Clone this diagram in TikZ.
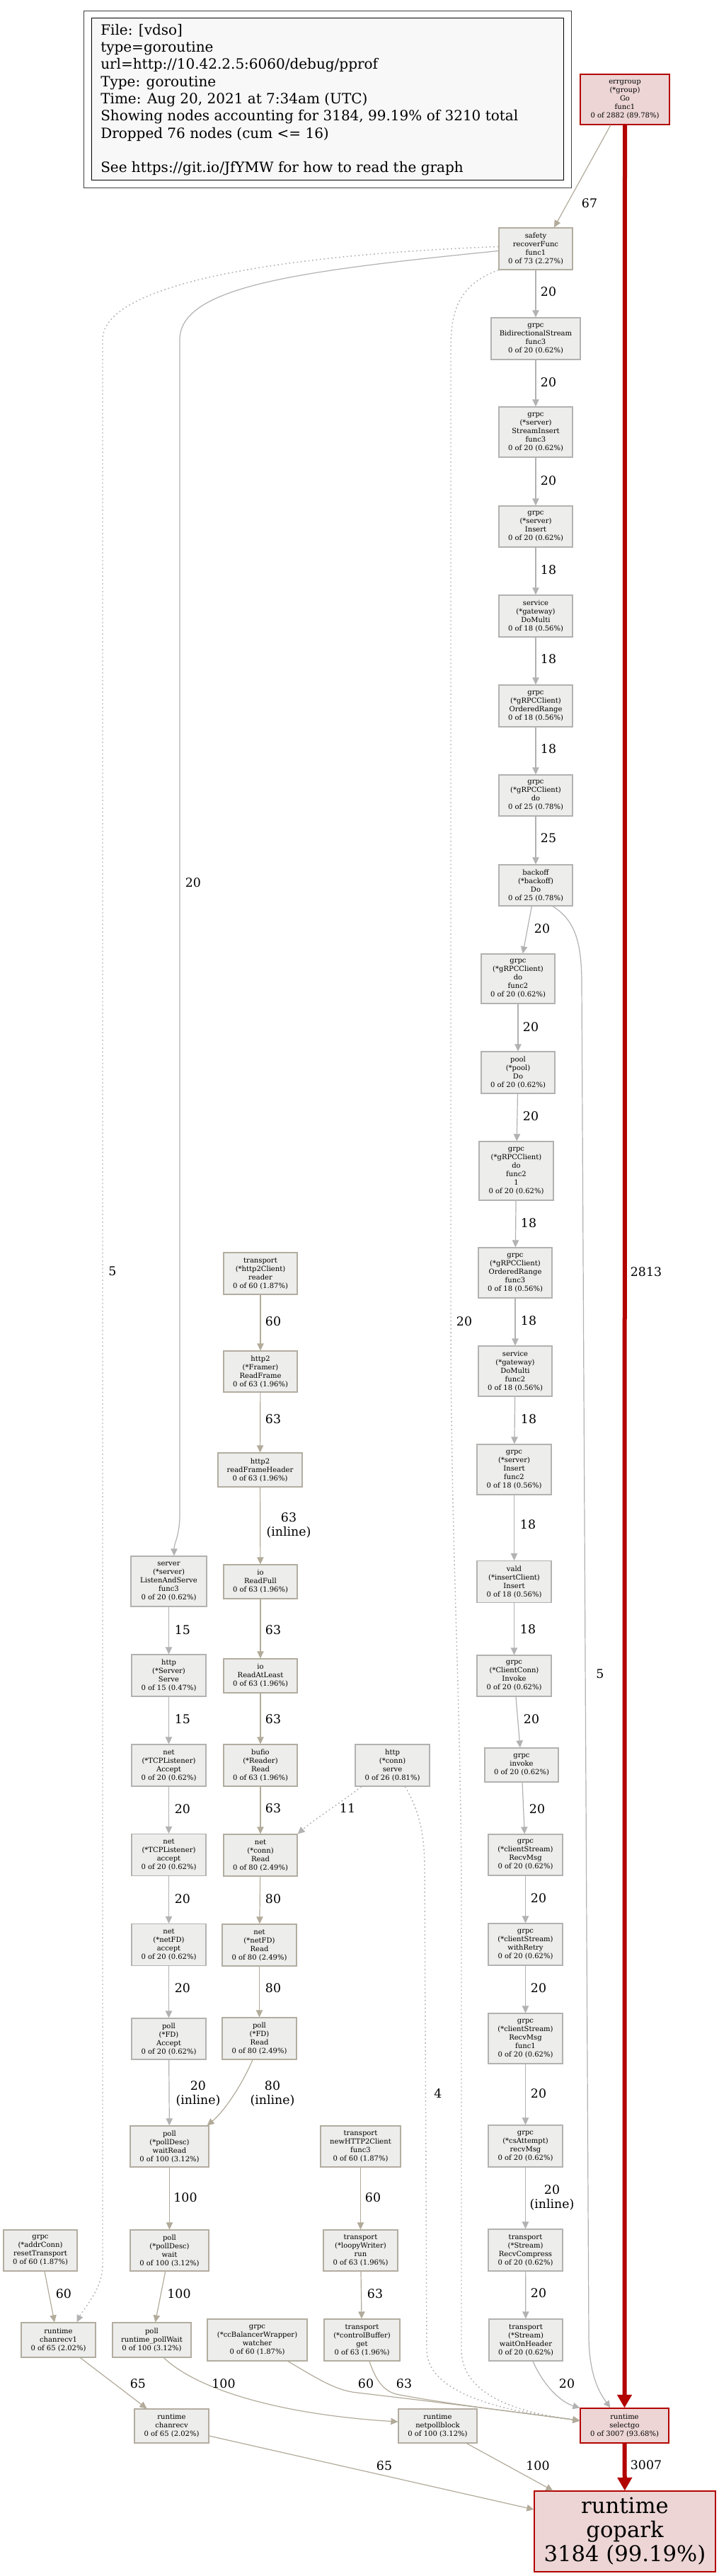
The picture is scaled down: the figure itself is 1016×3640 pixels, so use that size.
\documentclass[tikz,border=0pt]{standalone}
\usepackage{fontspec}
\setmainfont{DejaVu Serif}
\usetikzlibrary{arrows.meta,calc}
\definecolor{ndf}{HTML}{EDEDEC}
\definecolor{ndb}{HTML}{B2B2B1}
\definecolor{tnb}{HTML}{B2ADA0}
\definecolor{ged}{HTML}{B2B2B2}
\definecolor{ted}{HTML}{B2AB9A}
\definecolor{rdf}{HTML}{EDD5D5}
\definecolor{rdb}{HTML}{B20400}
\definecolor{lgf}{HTML}{F8F8F8}
\newcommand\NdFont{\fontsize{7.5}{9}\selectfont}
\newcommand\LbFont{\fontsize{13}{15}\selectfont}
\begin{document}
\begin{tikzpicture}[x=0.75pt,y=-0.75pt,
  nd/.style={draw=ndb, fill=ndf, line width=0.9pt, inner sep=0pt, align=center, font=\NdFont},
  tn/.style={nd, draw=tnb},
  rd/.style={nd, draw=rdb, fill=rdf},
  wh/.style 2 args={minimum width={#1*0.75pt}, minimum height={#2*0.75pt}},
  lb/.style={inner sep=0pt, align=center, font=\LbFont},
  ge/.style={draw=ged, line width=0.9pt, -{Triangle[length=7.5pt,width=7pt]}},
  te/.style={draw=ted, line width=0.9pt, -{Triangle[length=7.5pt,width=7pt]}},
  dt/.style={line width=1.1pt, dash pattern=on 1.3pt off 2.8pt},
  re/.style={draw=rdb, line width=4.5pt, -{Triangle[length=14pt,width=15pt]}}
]
\useasboundingbox (0,0) rectangle (1016,3640);
\fill[white] (0,0) rectangle (1016,3640);

% legend
\draw[line width=0.75pt, draw=black!75] (118,16) rectangle (807,265);
\draw[line width=0.75pt, fill=lgf] (129,26) rectangle (796,254);
\node[anchor=north west, inner sep=0pt, align=left, font=\fontsize{15}{18.2}\selectfont] (legend) at (142,34)
 {File: [vdso]\\type=goroutine\\url=http://10.42.2.5:6060/debug/pprof\\Type: goroutine\\Time: Aug 20, 2021 at 7:34am (UTC)\\Showing nodes accounting for 3184, 99.19\% of 3210 total\\Dropped 76 nodes (cum <= 16)\\[18.2pt]See https://git.io/JfYMW for how to read the graph};

% right column
\node[rd, wh={126}{71}] (nerrgroup) at (883,140.5) {errgroup\\(*group)\\Go\\func1\\0 of 2882 (89.78\%)};
\node[tn, wh={104}{59}] (nsafety) at (757,351.5) {safety\\recoverFunc\\func1\\0 of 73 (2.27\%)};
\node[nd, wh={126}{59}] (nbidi) at (757,478.5) {grpc\\BidirectionalStream\\func3\\0 of 20 (0.62\%)};
\node[nd, wh={104}{71}] (nstreamins) at (757,610.5) {grpc\\(*server)\\StreamInsert\\func3\\0 of 20 (0.62\%)};
\node[nd, wh={104}{58}] (ninsert) at (757,744) {grpc\\(*server)\\Insert\\0 of 20 (0.62\%)};
\node[nd, wh={104}{59}] (ndomulti) at (757,870.5) {service\\(*gateway)\\DoMulti\\0 of 18 (0.56\%)};
\node[nd, wh={104}{59}] (nordrange) at (757,997.5) {grpc\\(*gRPCClient)\\OrderedRange\\0 of 18 (0.56\%)};
\node[nd, wh={104}{58}] (ndo) at (757,1124) {grpc\\(*gRPCClient)\\do\\0 of 25 (0.78\%)};
\node[nd, wh={104}{58}] (nbackoff) at (757,1251) {backoff\\(*backoff)\\Do\\0 of 25 (0.78\%)};
\node[nd, wh={104}{70}] (ndofunc2) at (732,1383) {grpc\\(*gRPCClient)\\do\\func2\\0 of 20 (0.62\%)};
\node[nd, wh={104}{59}] (npooldo) at (732,1515.5) {pool\\(*pool)\\Do\\0 of 20 (0.62\%)};
\node[nd, wh={105}{83}] (ndofunc21) at (729.5,1654.5) {grpc\\(*gRPCClient)\\do\\func2\\1\\0 of 20 (0.62\%)};
\node[nd, wh={104}{71}] (nordfunc3) at (728,1798.5) {grpc\\(*gRPCClient)\\OrderedRange\\func3\\0 of 18 (0.56\%)};
\node[nd, wh={104}{71}] (ndomultif2) at (728,1937.5) {service\\(*gateway)\\DoMulti\\func2\\0 of 18 (0.56\%)};
\node[nd, wh={105}{71}] (ninsertf2) at (726.5,2076.5) {grpc\\(*server)\\Insert\\func2\\0 of 18 (0.56\%)};
\node[nd, wh={105}{59}] (nvald) at (726.5,2235) {vald\\(*insertClient)\\Insert\\0 of 18 (0.56\%)};
\node[nd, wh={105}{58}] (nccinvoke) at (726.5,2368) {grpc\\(*ClientConn)\\Invoke\\0 of 20 (0.62\%)};
\node[nd, wh={104}{48}] (ninvoke) at (737,2494) {grpc\\invoke\\0 of 20 (0.62\%)};
\node[nd, wh={105}{58}] (ncsrecv) at (742.5,2621) {grpc\\(*clientStream)\\RecvMsg\\0 of 20 (0.62\%)};
\node[nd, wh={105}{59}] (nwithretry) at (742.5,2747.5) {grpc\\(*clientStream)\\withRetry\\0 of 20 (0.62\%)};
\node[nd, wh={105}{71}] (nrecvf1) at (742.5,2880.5) {grpc\\(*clientStream)\\RecvMsg\\func1\\0 of 20 (0.62\%)};
\node[nd, wh={105}{59}] (ncsattempt) at (742.5,3032.5) {grpc\\(*csAttempt)\\recvMsg\\0 of 20 (0.62\%)};
\node[nd, wh={105}{59}] (nrecvcomp) at (742.5,3179.5) {transport\\(*Stream)\\RecvCompress\\0 of 20 (0.62\%)};
\node[nd, wh={104}{59}] (nwaitoh) at (743,3306.5) {transport\\(*Stream)\\waitOnHeader\\0 of 20 (0.62\%)};
\node[rd, wh={125}{49}] (nselectgo) at (882.5,3427.5) {runtime\\selectgo\\0 of 3007 (93.68\%)};
\node[rd, wh={256}{114}, font=\fontsize{23}{25.5}\selectfont] (ngopark) at (883,3577) {runtime\\gopark\\3184 (99.19\%)};

% middle column
\node[tn, wh={104}{59}] (nreader) at (368,1799.5) {transport\\(*http2Client)\\reader\\0 of 60 (1.87\%)};
\node[tn, wh={104}{58}] (nreadframe) at (368,1938) {http2\\(*Framer)\\ReadFrame\\0 of 63 (1.96\%)};
\node[tn, wh={119}{48}] (nrfh) at (367.5,2077) {http2\\readFrameHeader\\0 of 63 (1.96\%)};
\node[tn, wh={104}{48}] (nreadfull) at (368,2235) {io\\ReadFull\\0 of 63 (1.96\%)};
\node[tn, wh={104}{48}] (nreadatleast) at (368,2368) {io\\ReadAtLeast\\0 of 63 (1.96\%)};
\node[tn, wh={104}{59}] (nbufio) at (368,2494.5) {bufio\\(*Reader)\\Read\\0 of 63 (1.96\%)};
\node[tn, wh={104}{59}] (nconnread) at (368,2621.5) {net\\(*conn)\\Read\\0 of 80 (2.49\%)};
\node[tn, wh={105}{59}] (nnetfdread) at (366.5,2748.5) {net\\(*netFD)\\Read\\0 of 80 (2.49\%)};
\node[tn, wh={105}{59}] (nfdread) at (366.5,2880.5) {poll\\(*FD)\\Read\\0 of 80 (2.49\%)};
\node[nd, wh={105}{59}] (nhttpserve) at (554.5,2494.5) {http\\(*conn)\\serve\\0 of 26 (0.81\%)};
\node[tn, wh={113}{58}] (nnewh2c) at (509.5,3033) {transport\\newHTTP2Client\\func3\\0 of 60 (1.87\%)};
\node[tn, wh={105}{58}] (nloopy) at (509.5,3180) {transport\\(*loopyWriter)\\run\\0 of 63 (1.96\%)};
\node[tn, wh={107}{59}] (nctrlbuf) at (511.5,3306.5) {transport\\(*controlBuffer)\\get\\0 of 63 (1.96\%)};
\node[tn, wh={141}{59}] (nccbw) at (363.5,3306.5) {grpc\\(*ccBalancerWrapper)\\watcher\\0 of 60 (1.87\%)};
\node[tn, wh={111}{48}] (nnetpollblock) at (618.5,3428) {runtime\\netpollblock\\0 of 100 (3.12\%)};

% left column
\node[nd, wh={107}{71}] (nlands) at (238.5,2234.5) {server\\(*server)\\ListenAndServe\\func3\\0 of 20 (0.62\%)};
\node[nd, wh={105}{59}] (nhttpsrv) at (238.5,2367.5) {http\\(*Server)\\Serve\\0 of 15 (0.47\%)};
\node[nd, wh={105}{59}] (ntcpAccept) at (238.5,2494.5) {net\\(*TCPListener)\\Accept\\0 of 20 (0.62\%)};
\node[nd, wh={105}{59}] (ntcpaccept) at (238.5,2621) {net\\(*TCPListener)\\accept\\0 of 20 (0.62\%)};
\node[nd, wh={105}{59}] (nnetfdaccept) at (238.5,2748) {net\\(*netFD)\\accept\\0 of 20 (0.62\%)};
\node[nd, wh={105}{58}] (nfdaccept) at (238.5,2881) {poll\\(*FD)\\Accept\\0 of 20 (0.62\%)};
\node[tn, wh={111}{58}] (nwaitread) at (239.5,3033) {poll\\(*pollDesc)\\waitRead\\0 of 100 (3.12\%)};
\node[tn, wh={111}{58}] (npdwait) at (239.5,3180) {poll\\(*pollDesc)\\wait\\0 of 100 (3.12\%)};
\node[tn, wh={111}{49}] (npollwait) at (214.5,3306.5) {poll\\runtime\_pollWait\\0 of 100 (3.12\%)};
\node[tn, wh={104}{58}] (naddrconn) at (57,3180) {grpc\\(*addrConn)\\resetTransport\\0 of 60 (1.87\%)};
\node[tn, wh={105}{49}] (nchanrecv1) at (82.5,3306.5) {runtime\\chanrecv1\\0 of 65 (2.02\%)};
\node[tn, wh={105}{48}] (nchanrecv) at (242.5,3428) {runtime\\chanrecv\\0 of 65 (2.02\%)};

% edges: right column
\draw[te] ($(nerrgroup.south)+(-20,0)$) -- ($(nsafety.north)+(26,0)$);
\draw[re] (nerrgroup.south) -- (nselectgo.north);
\draw[ge] (nsafety) -- (nbidi);
\draw[ge] (nbidi) -- (nstreamins);
\draw[ge] (nstreamins) -- (ninsert);
\draw[ge] (ninsert) -- (ndomulti);
\draw[ge] (ndomulti) -- (nordrange);
\draw[ge] (nordrange) -- (ndo);
\draw[ge] (ndo) -- (nbackoff);
\draw[ge] (nbackoff) -- (ndofunc2);
\draw[ge] ($(nbackoff.south)+(24,0)$) .. controls (812,1300) and (822,1330) .. (822,1390) -- (832,3300) .. controls (832,3360) and (850,3385) .. ($(nselectgo.north)+(-20,0)$);
\draw[ge] (ndofunc2) -- (npooldo);
\draw[ge] (npooldo) -- (ndofunc21);
\draw[ge] (ndofunc21) -- (nordfunc3);
\draw[ge] (nordfunc3) -- (ndomultif2);
\draw[ge] (ndomultif2) -- (ninsertf2);
\draw[ge] (ninsertf2) -- (nvald);
\draw[ge] (nvald) -- (nccinvoke);
\draw[ge] (nccinvoke) -- (ninvoke);
\draw[ge] (ninvoke) -- (ncsrecv);
\draw[ge] (ncsrecv) -- (nwithretry);
\draw[ge] (nwithretry) -- (nrecvf1);
\draw[ge] (nrecvf1) -- (ncsattempt);
\draw[ge] (ncsattempt) -- (nrecvcomp);
\draw[ge] (nrecvcomp) -- (nwaitoh);
\draw[ge] ($(nwaitoh.south)+(10,0)$) .. controls (770,3375) and (795,3395) .. (nselectgo.north west);
\draw[re] (nselectgo) -- (ngopark);

% edges from safety to the left
\draw[ge] ($(nsafety.west)+(0,3)$) .. controls (420,383) and (254,405) .. (254,480) -- (254,2140) .. controls (254,2170) and (246,2180) .. ($(nlands.north)+(7.5,0)$);
\draw[ge,dt] ($(nsafety.west)+(0,-3)$) .. controls (400,360) and (145,400) .. (145,480) -- (145,3200) .. controls (145,3235) and (118,3262) .. ($(nchanrecv1.north)+(26,0)$);
\draw[ge,dt] (nsafety.south west) .. controls (655,400) and (637,430) .. (637,490) -- (637,1850) .. controls (637,2200) and (652,2400) .. (652,2700) -- (652,3320) .. controls (652,3395) and (760,3412) .. ($(nselectgo.west)+(0,-7)$);

% middle column edges
\draw[te] (nreader) -- (nreadframe);
\draw[te] (nreadframe) -- (nrfh);
\draw[te] (nrfh) -- (nreadfull);
\draw[te] (nreadfull) -- (nreadatleast);
\draw[te] (nreadatleast) -- (nbufio);
\draw[te] (nbufio) -- (nconnread);
\draw[te] (nconnread) -- (nnetfdread);
\draw[te] (nnetfdread) -- (nfdread);
\draw[te] ($(nfdread.south)+(-9.5,0)$) .. controls (340,2950) and (315,2985) .. ($(nwaitread.north east)+(-3,0)$);
\draw[ge,dt] ($(nhttpserve.south)+(-44,0)$) .. controls (485,2545) and (445,2570) .. (nconnread.north east);
\draw[ge,dt] ($(nhttpserve.south)+(18,0)$) .. controls (590,2555) and (600,2585) .. (600,2640) -- (603,3320) .. controls (603,3395) and (760,3412) .. ($(nselectgo.west)+(0,-7)$);
\draw[te] (nnewh2c) -- (nloopy);
\draw[te] (nloopy) -- (nctrlbuf);
\draw[te] ($(nccbw.south)+(43.5,0)$) .. controls (450,3362) and (475,3378) .. (505,3381) .. controls (600,3392) and (760,3412) .. ($(nselectgo.west)+(0,-7)$);
\draw[te] ($(nctrlbuf.south)+(10.5,0)$) .. controls (530,3360) and (540,3378) .. (560,3383) .. controls (630,3397) and (760,3412) .. ($(nselectgo.west)+(0,-7)$);
\draw[te] ($(nnetpollblock.south)+(41,0)$) -- ($(ngopark.north west)+(27,0)$);

% left column edges
\draw[ge] (nlands) -- (nhttpsrv);
\draw[ge] (nhttpsrv) -- (ntcpAccept);
\draw[ge] (ntcpAccept) -- (ntcpaccept);
\draw[ge] (ntcpaccept) -- (nnetfdaccept);
\draw[ge] (nnetfdaccept) -- (nfdaccept);
\draw[ge] (nfdaccept) -- (nwaitread);
\draw[te] (nwaitread) -- (npdwait);
\draw[te] (npdwait) -- (npollwait);
\draw[te] ($(npollwait.south)+(17,0)$) .. controls (280,3378) and (400,3412) .. ($(nnetpollblock.west)+(0,-6)$);
\draw[te] ($(naddrconn.south)+(6,0)$) -- ($(nchanrecv1.north)+(-5.5,0)$);
\draw[te] ($(nchanrecv1.south)+(31,0)$) -- ($(nchanrecv.north)+(-35,0)$);
\draw[te] ($(nchanrecv.east)+(0,14)$) -- ($(ngopark.west)+(0,-31)$);

% edge labels
\node[lb] (l67) at (833,287) {67};
\node[lb] (l2813) at (913,1797) {2813};
\node[lb] (la1) at (775,412) {20};
\node[lb] (la2) at (775,540) {20};
\node[lb] (la3) at (775,679) {20};
\node[lb] (la4) at (775,805) {18};
\node[lb] (la5) at (775,931) {18};
\node[lb] (la6) at (775,1058) {18};
\node[lb] (la7) at (775,1184) {25};
\node[lb] (la8) at (766,1312) {20};
\node[lb] (la9) at (848,2365) {5};
\node[lb] (la10) at (750,1451) {20};
\node[lb] (la11) at (750,1577) {20};
\node[lb] (la12) at (747,1728) {18};
\node[lb] (la13) at (747,1866) {18};
\node[lb] (la14) at (747,2005) {18};
\node[lb] (la15) at (746,2154) {18};
\node[lb] (la16) at (746,2302) {18};
\node[lb] (la17) at (751,2429) {20};
\node[lb] (la18) at (759,2556) {20};
\node[lb] (la19) at (761,2682) {20};
\node[lb] (la20) at (761,2809) {20};
\node[lb] (la21) at (761,2958) {20};
\node[lb] (la22) at (780,3105) {20\\(inline)};
\node[lb] (la23) at (761,3240) {20};
\node[lb] (la24) at (801,3368) {20};
\node[lb] (l3007) at (913,3483) {3007};
\node[lb] (lb1) at (273,1247) {20};
\node[lb] (lb2) at (159,1796) {5};
\node[lb] (lb3) at (656,1867) {20};
\node[lb] (lm1) at (386,1867) {60};
\node[lb] (lm2) at (386,2005) {63};
\node[lb] (lm3) at (408,2155) {63\\(inline)};
\node[lb] (lm4) at (386,2303) {63};
\node[lb] (lm5) at (386,2429) {63};
\node[lb] (lm6) at (386,2555) {63};
\node[lb] (lm7) at (491,2555) {11};
\node[lb] (lm8) at (619,2958) {4};
\node[lb] (lm9) at (386,2683) {80};
\node[lb] (lm10) at (386,2809) {80};
\node[lb] (lm11) at (385,2958) {80\\(inline)};
\node[lb] (lm12) at (527,3105) {60};
\node[lb] (lm13) at (530,3241) {63};
\node[lb] (lm14) at (517,3368) {60};
\node[lb] (lm15) at (571,3368) {63};
\node[lb] (lm16) at (543,3484) {65};
\node[lb] (lm17) at (760,3484) {100};
\node[lb] (ll1) at (258,2303) {15};
\node[lb] (ll2) at (258,2429) {15};
\node[lb] (ll3) at (258,2556) {20};
\node[lb] (ll4) at (258,2683) {20};
\node[lb] (ll5) at (258,2809) {20};
\node[lb] (ll6) at (280,2958) {20\\(inline)};
\node[lb] (ll7) at (262,3105) {100};
\node[lb] (ll8) at (253,3241) {100};
\node[lb] (ll9) at (316,3368) {100};
\node[lb] (ll10) at (90,3241) {60};
\node[lb] (ll11) at (195,3368) {65};
\end{tikzpicture}
\end{document}
